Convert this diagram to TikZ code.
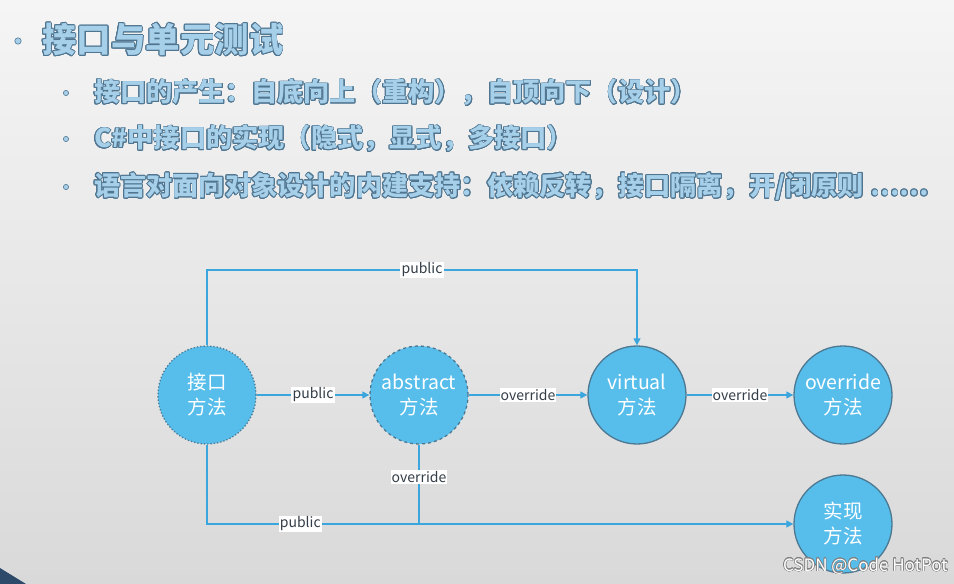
\documentclass[tikz,border=0pt]{standalone}
\usepackage{fontspec}
\setmainfont{Noto Sans CJK SC}
\usepackage{contour}
\contourlength{0.8pt}
\usetikzlibrary{arrows.meta}
\definecolor{lineblue}{HTML}{3AA6DD}
\definecolor{circfill}{HTML}{57BEEC}
\definecolor{circdraw}{HTML}{4D7891}
\definecolor{headfill}{HTML}{A6CFEA}
\definecolor{headline}{HTML}{4F7590}
\definecolor{labeltext}{HTML}{333D47}
\definecolor{bgtop}{HTML}{F5F5F5}
\definecolor{bgbot}{HTML}{D9D9D9}
\definecolor{corner}{HTML}{2E4A6A}
\begin{document}
\begin{tikzpicture}[x=1pt,y=-1pt,
  circ/.style={circle, fill=circfill, draw=circdraw, line width=1.3pt, minimum size=98pt, inner sep=0pt, text=white, font=\fontsize{19.5}{25}\selectfont, align=center},
  conn/.style={draw=lineblue, line width=1.2pt},
  arr/.style={conn, -{Triangle[length=7pt,width=7pt]}},
  lbl/.style={fill=white, inner sep=1.2pt, text=labeltext, font=\fontsize{14}{16}\selectfont},
  bul/.style={draw=headline, fill=headfill, line width=0.6pt},
  head/.style={anchor=west, inner sep=0pt}]
\useasboundingbox (0,0) rectangle (954,584);
\shade[shading angle=225, top color=bgtop, bottom color=bgbot] (0,0) rectangle (954,584);
\fill[corner] (0,568) -- (26,584) -- (0,584) -- cycle;

% headings
\draw[bul] (18,41) circle (3.2pt);
\node[head] (h0) at (42,40) {\fontsize{34.5}{38}\selectfont\bfseries\color{headfill}\contour{headline}{接口与单元测试}};
\draw[bul] (66,93) circle (2.6pt);
\node[head] (h1) at (94,93) {\fontsize{26.2}{30}\selectfont\bfseries\color{headfill}\contour{headline}{接口的产生：自底向上（重构），自顶向下（设计）}};
\draw[bul] (66,139) circle (2.6pt);
\node[head] (h2) at (94,139) {\fontsize{26.2}{30}\selectfont\bfseries\color{headfill}\contour{headline}{C\#中接口的实现（隐式，显式，多接口）}};
\draw[bul] (66,187) circle (2.6pt);
\node[head] (h3) at (94,187) {\fontsize{26.2}{30}\selectfont\bfseries\color{headfill}\contour{headline}{语言对面向对象设计的内建支持：依赖反转，接口隔离，开/闭原则 ……}};

% circles
\node[circ, dotted] (if) at (207,395) {接口\\方法};
\node[circ, dashed] (am) at (419,395) {abstract\\方法};
\node[circ] (vm) at (637,395) {virtual\\方法};
\node[circ] (om) at (843,395) {override\\方法};
\node[circ] (im) at (843,524) {实现\\方法};

% connectors
\coordinate (tl) at (207,270);
\coordinate (tr) at (637,270);
\coordinate (bl) at (207,524);
\coordinate (bm) at (419,524);
\draw[arr] (if.north) -- (tl) -- node[lbl]{public} (tr) -- (vm.north);
\draw[arr] (if.east) -- node[lbl]{public} (am.west);
\draw[arr] (am.east) -- node[lbl]{override} (vm.west);
\draw[arr] (vm.east) -- node[lbl]{override} (om.west);
\draw[conn] (if.south) -- (bl) -- node[lbl, pos=0.44]{public} (bm);
\draw[arr] (am.south) -- node[lbl, pos=0.41]{override} (bm) -- (im.west);

% watermark
\node[anchor=east, inner sep=0pt] (wm) at (948,566) {\fontsize{17}{20}\selectfont\contourlength{0.5pt}\color{white}\contour{gray}{CSDN @Code HotPot}};
\end{tikzpicture}
\end{document}
